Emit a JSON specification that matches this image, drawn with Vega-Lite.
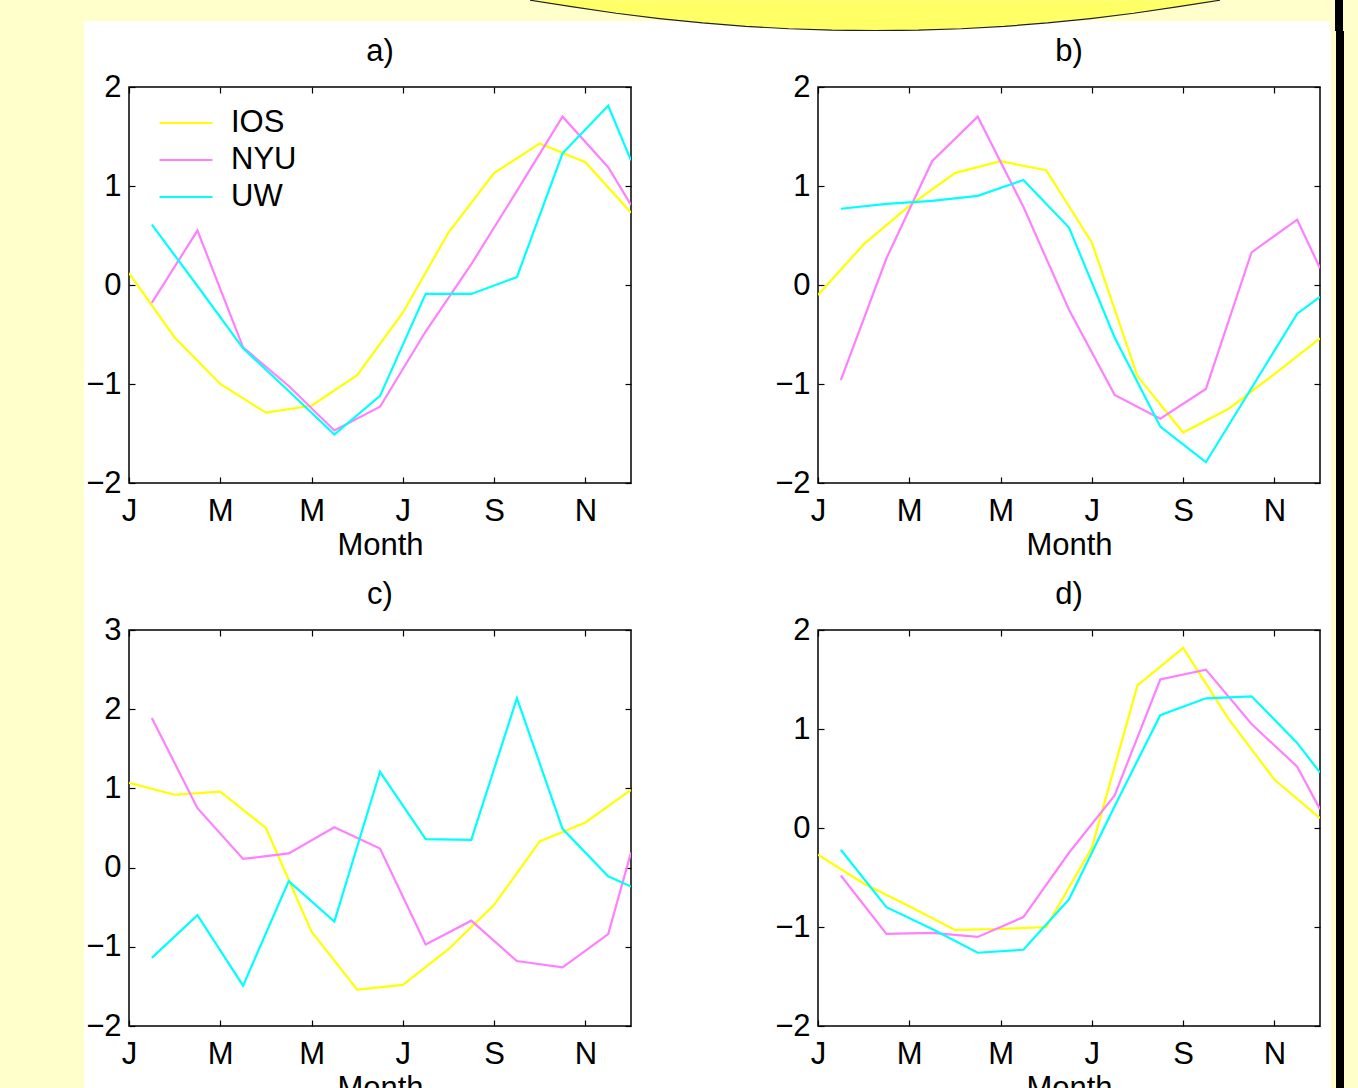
{
"$schema":"https://vega.github.io/schema/vega-lite/v6.json",
"background":"white",
"padding":0,
"autosize":{"type":"pad"},
"columns":1,
"align":"none",
"spacing":0,
"resolve":{"scale":{"color":"independent"},"legend":{"color":"independent"}},
"datasets":{"d":[
{"panel":"a","series":"IOS","month":1,"value":0.12},{"panel":"a","series":"IOS","month":2,"value":-0.53},{"panel":"a","series":"IOS","month":3,"value":-1.0},{"panel":"a","series":"IOS","month":4,"value":-1.29},{"panel":"a","series":"IOS","month":5,"value":-1.22},{"panel":"a","series":"IOS","month":6,"value":-0.91},{"panel":"a","series":"IOS","month":7,"value":-0.28},{"panel":"a","series":"IOS","month":8,"value":0.53},{"panel":"a","series":"IOS","month":9,"value":1.13},{"panel":"a","series":"IOS","month":10,"value":1.43},{"panel":"a","series":"IOS","month":11,"value":1.24},{"panel":"a","series":"IOS","month":12,"value":0.73},
{"panel":"a","series":"NYU","month":1.5,"value":-0.18},{"panel":"a","series":"NYU","month":2.5,"value":0.55},{"panel":"a","series":"NYU","month":3.5,"value":-0.63},{"panel":"a","series":"NYU","month":4.5,"value":-1.02},{"panel":"a","series":"NYU","month":5.5,"value":-1.47},{"panel":"a","series":"NYU","month":6.5,"value":-1.23},{"panel":"a","series":"NYU","month":7.5,"value":-0.47},{"panel":"a","series":"NYU","month":8.5,"value":0.21},{"panel":"a","series":"NYU","month":9.5,"value":0.95},{"panel":"a","series":"NYU","month":10.5,"value":1.70},{"panel":"a","series":"NYU","month":11.5,"value":1.19},{"panel":"a","series":"NYU","month":12,"value":0.81},
{"panel":"a","series":"UW","month":1.5,"value":0.61},{"panel":"a","series":"UW","month":2.5,"value":-0.01},{"panel":"a","series":"UW","month":3.5,"value":-0.64},{"panel":"a","series":"UW","month":4.5,"value":-1.07},{"panel":"a","series":"UW","month":5.5,"value":-1.51},{"panel":"a","series":"UW","month":6.5,"value":-1.12},{"panel":"a","series":"UW","month":7.5,"value":-0.09},{"panel":"a","series":"UW","month":8.5,"value":-0.09},{"panel":"a","series":"UW","month":9.5,"value":0.08},{"panel":"a","series":"UW","month":10.5,"value":1.33},{"panel":"a","series":"UW","month":11.5,"value":1.81},{"panel":"a","series":"UW","month":12,"value":1.26},
{"panel":"b","series":"IOS","month":1,"value":-0.10},{"panel":"b","series":"IOS","month":2,"value":0.41},{"panel":"b","series":"IOS","month":3,"value":0.80},{"panel":"b","series":"IOS","month":4,"value":1.13},{"panel":"b","series":"IOS","month":5,"value":1.25},{"panel":"b","series":"IOS","month":6,"value":1.16},{"panel":"b","series":"IOS","month":7,"value":0.43},{"panel":"b","series":"IOS","month":8,"value":-0.92},{"panel":"b","series":"IOS","month":9,"value":-1.49},{"panel":"b","series":"IOS","month":10,"value":-1.25},{"panel":"b","series":"IOS","month":11,"value":-0.90},{"panel":"b","series":"IOS","month":12,"value":-0.54},
{"panel":"b","series":"NYU","month":1.5,"value":-0.96},{"panel":"b","series":"NYU","month":2.5,"value":0.27},{"panel":"b","series":"NYU","month":3.5,"value":1.25},{"panel":"b","series":"NYU","month":4.5,"value":1.70},{"panel":"b","series":"NYU","month":5.5,"value":0.79},{"panel":"b","series":"NYU","month":6.5,"value":-0.25},{"panel":"b","series":"NYU","month":7.5,"value":-1.11},{"panel":"b","series":"NYU","month":8.5,"value":-1.35},{"panel":"b","series":"NYU","month":9.5,"value":-1.05},{"panel":"b","series":"NYU","month":10.5,"value":0.33},{"panel":"b","series":"NYU","month":11.5,"value":0.66},{"panel":"b","series":"NYU","month":12,"value":0.17},
{"panel":"b","series":"UW","month":1.5,"value":0.77},{"panel":"b","series":"UW","month":2.5,"value":0.82},{"panel":"b","series":"UW","month":3.5,"value":0.85},{"panel":"b","series":"UW","month":4.5,"value":0.90},{"panel":"b","series":"UW","month":5.5,"value":1.06},{"panel":"b","series":"UW","month":6.5,"value":0.58},{"panel":"b","series":"UW","month":7.5,"value":-0.53},{"panel":"b","series":"UW","month":8.5,"value":-1.43},{"panel":"b","series":"UW","month":9.5,"value":-1.79},{"panel":"b","series":"UW","month":10.5,"value":-1.04},{"panel":"b","series":"UW","month":11.5,"value":-0.29},{"panel":"b","series":"UW","month":12,"value":-0.12},
{"panel":"c","series":"IOS","month":1,"value":1.07},{"panel":"c","series":"IOS","month":2,"value":0.92},{"panel":"c","series":"IOS","month":3,"value":0.96},{"panel":"c","series":"IOS","month":4,"value":0.50},{"panel":"c","series":"IOS","month":5,"value":-0.81},{"panel":"c","series":"IOS","month":6,"value":-1.54},{"panel":"c","series":"IOS","month":7,"value":-1.48},{"panel":"c","series":"IOS","month":8,"value":-1.03},{"panel":"c","series":"IOS","month":9,"value":-0.47},{"panel":"c","series":"IOS","month":10,"value":0.33},{"panel":"c","series":"IOS","month":11,"value":0.57},{"panel":"c","series":"IOS","month":12,"value":0.98},
{"panel":"c","series":"NYU","month":1.5,"value":1.89},{"panel":"c","series":"NYU","month":2.5,"value":0.75},{"panel":"c","series":"NYU","month":3.5,"value":0.11},{"panel":"c","series":"NYU","month":4.5,"value":0.18},{"panel":"c","series":"NYU","month":5.5,"value":0.51},{"panel":"c","series":"NYU","month":6.5,"value":0.24},{"panel":"c","series":"NYU","month":7.5,"value":-0.97},{"panel":"c","series":"NYU","month":8.5,"value":-0.67},{"panel":"c","series":"NYU","month":9.5,"value":-1.18},{"panel":"c","series":"NYU","month":10.5,"value":-1.26},{"panel":"c","series":"NYU","month":11.5,"value":-0.84},{"panel":"c","series":"NYU","month":12,"value":0.19},
{"panel":"c","series":"UW","month":1.5,"value":-1.14},{"panel":"c","series":"UW","month":2.5,"value":-0.60},{"panel":"c","series":"UW","month":3.5,"value":-1.49},{"panel":"c","series":"UW","month":4.5,"value":-0.17},{"panel":"c","series":"UW","month":5.5,"value":-0.68},{"panel":"c","series":"UW","month":6.5,"value":1.21},{"panel":"c","series":"UW","month":7.5,"value":0.36},{"panel":"c","series":"UW","month":8.5,"value":0.35},{"panel":"c","series":"UW","month":9.5,"value":2.14},{"panel":"c","series":"UW","month":10.5,"value":0.49},{"panel":"c","series":"UW","month":11.5,"value":-0.11},{"panel":"c","series":"UW","month":12,"value":-0.24},
{"panel":"d","series":"IOS","month":1,"value":-0.27},{"panel":"d","series":"IOS","month":2,"value":-0.56},{"panel":"d","series":"IOS","month":3,"value":-0.79},{"panel":"d","series":"IOS","month":4,"value":-1.03},{"panel":"d","series":"IOS","month":5,"value":-1.02},{"panel":"d","series":"IOS","month":6,"value":-1.00},{"panel":"d","series":"IOS","month":7,"value":-0.20},{"panel":"d","series":"IOS","month":8,"value":1.44},{"panel":"d","series":"IOS","month":9,"value":1.82},{"panel":"d","series":"IOS","month":10,"value":1.10},{"panel":"d","series":"IOS","month":11,"value":0.49},{"panel":"d","series":"IOS","month":12,"value":0.10},
{"panel":"d","series":"NYU","month":1.5,"value":-0.48},{"panel":"d","series":"NYU","month":2.5,"value":-1.07},{"panel":"d","series":"NYU","month":3.5,"value":-1.06},{"panel":"d","series":"NYU","month":4.5,"value":-1.10},{"panel":"d","series":"NYU","month":5.5,"value":-0.90},{"panel":"d","series":"NYU","month":6.5,"value":-0.25},{"panel":"d","series":"NYU","month":7.5,"value":0.33},{"panel":"d","series":"NYU","month":8.5,"value":1.50},{"panel":"d","series":"NYU","month":9.5,"value":1.60},{"panel":"d","series":"NYU","month":10.5,"value":1.05},{"panel":"d","series":"NYU","month":11.5,"value":0.62},{"panel":"d","series":"NYU","month":12,"value":0.19},
{"panel":"d","series":"UW","month":1.5,"value":-0.22},{"panel":"d","series":"UW","month":2.5,"value":-0.80},{"panel":"d","series":"UW","month":3.5,"value":-1.02},{"panel":"d","series":"UW","month":4.5,"value":-1.26},{"panel":"d","series":"UW","month":5.5,"value":-1.23},{"panel":"d","series":"UW","month":6.5,"value":-0.72},{"panel":"d","series":"UW","month":7.5,"value":0.22},{"panel":"d","series":"UW","month":8.5,"value":1.14},{"panel":"d","series":"UW","month":9.5,"value":1.31},{"panel":"d","series":"UW","month":10.5,"value":1.33},{"panel":"d","series":"UW","month":11.5,"value":0.86},{"panel":"d","series":"UW","month":12,"value":0.56}
]},
"concat":[
 {"width":1358,"height":31,"view":{"fill":null,"stroke":null},"data":{"values":[{}]},
  "layer":[
   {"mark":{"type":"rect","color":"#FFFFCC"},
    "encoding":{
     "x":{"datum":0,"type":"quantitative","scale":{"domain":[0,1358],"nice":false,"zero":false},"axis":null},
     "x2":{"datum":1358},
     "y":{"datum":0,"type":"quantitative","scale":{"domain":[0,31],"nice":false,"zero":false,"reverse":true},"axis":null},
     "y2":{"datum":21}}},
   {"mark":{"type":"rect","color":"#FFFFCC"},
    "encoding":{"x":{"datum":0,"type":"quantitative"},"x2":{"datum":84},"y":{"datum":21,"type":"quantitative"},"y2":{"datum":31}}},
   {"mark":{"type":"rect","color":"#FFFFCC"},
    "encoding":{"x":{"datum":1330,"type":"quantitative"},"x2":{"datum":1358},"y":{"datum":21,"type":"quantitative"},"y2":{"datum":31}}},
   {"mark":{"type":"rect","color":"black"},
    "encoding":{"x":{"datum":1335,"type":"quantitative"},"x2":{"datum":1343},"y":{"datum":0,"type":"quantitative"},"y2":{"datum":31}}},
   {"mark":{"type":"point","clip":true,"filled":true,"fill":"#FFFF66","stroke":"#222222","strokeWidth":1.2,"strokeJoin":"round","opacity":1,"size":476100,
     "shape":"M-1,-0.0435L-0.875,-0.0239L-0.75,-0.0056L-0.625,0.0098L-0.5,0.0225L-0.375,0.0323L-0.25,0.0393L-0.125,0.0435L0,0.0449L0.125,0.0435L0.25,0.0393L0.375,0.0323L0.5,0.0225L0.625,0.0098L0.75,-0.0056L0.875,-0.0239L1,-0.0435"},
    "encoding":{"x":{"datum":875,"type":"quantitative"},"y":{"datum":15.2,"type":"quantitative"}}}
  ]},
 {"columns":3,"align":"none","spacing":0,
  "resolve":{"scale":{"color":"independent"},"legend":{"color":"independent"}},
  "concat":[
   {"width":84,"height":1001,"view":{"fill":null,"stroke":null},"data":{"values":[{}]},
    "mark":{"type":"rect","color":"#FFFFCC"},
    "encoding":{
     "x":{"datum":0,"type":"quantitative","scale":{"domain":[0,84],"nice":false,"zero":false},"axis":null},
     "x2":{"datum":84},
     "y":{"datum":-56,"type":"quantitative","scale":{"domain":[0,1001],"nice":false,"zero":false,"reverse":true},"axis":null},
     "y2":{"datum":1001}}},
   {"columns":2,"bounds":"flush","spacing":{"row":147,"column":187},
    "resolve":{"scale":{"color":"independent"},"legend":{"color":"independent"}},
    "concat":[
     {"width":502,"height":396,"title":{"text":"a)"},"data":{"name":"d"},"transform":[{"filter":"datum.panel==='a'"}],
      "layer":[
       {"mark":{"type":"line","clip":true,"strokeWidth":2.2},
        "encoding":{
         "x":{"field":"month","type":"quantitative","scale":{"domain":[1,12],"nice":false,"zero":false},
              "axis":{"orient":"bottom","values":[1,3,5,7,9,11],"labelExpr":"datum.value==1?'J':datum.value==3?'M':datum.value==5?'M':datum.value==7?'J':datum.value==9?'S':'N'","title":"Month","tickSize":-6,"labelPadding":43,"labelBaseline":"alphabetic","titleBaseline":"alphabetic","titleY":71,"labelFlush":false,"labelOverlap":false,"labelBound":false}},
         "y":{"field":"value","type":"quantitative","scale":{"domain":[-2,2],"nice":false,"zero":false},
              "axis":{"orient":"left","values":[-2,-1,0,1,2],"format":"d","title":null,"tickSize":-6,"labelPadding":14,"labelOverlap":false,"labelFlush":false}},
         "color":{"field":"series","type":"nominal","scale":{"domain":["IOS","NYU","UW"],"range":["#FFFF00","#FF80FF","#00FFFF"]},
              "legend":{"orient":"none","legendX":29,"legendY":20,"title":null,"symbolType":"stroke","symbolSize":2809,"symbolStrokeWidth":2.2,"labelFontSize":31,"labelFont":"Liberation Sans","labelColor":"black","labelOffset":17,"rowPadding":5,"clipHeight":32,"padding":0}}}},
       {"mark":{"type":"point","clip":true,"opacity":0},
        "encoding":{
         "x":{"field":"month","type":"quantitative","axis":{"orient":"top","values":[1,3,5,7,9,11],"labels":false,"title":null,"tickSize":-6}},
         "y":{"field":"value","type":"quantitative","axis":{"orient":"right","values":[-2,-1,0,1,2],"labels":false,"title":null,"tickSize":-6}}}}
      ]},
     {"width":502,"height":396,"title":{"text":"b)"},"data":{"name":"d"},"transform":[{"filter":"datum.panel==='b'"}],
      "layer":[
       {"mark":{"type":"line","clip":true,"strokeWidth":2.2},
        "encoding":{
         "x":{"field":"month","type":"quantitative","scale":{"domain":[1,12],"nice":false,"zero":false},
              "axis":{"orient":"bottom","values":[1,3,5,7,9,11],"labelExpr":"datum.value==1?'J':datum.value==3?'M':datum.value==5?'M':datum.value==7?'J':datum.value==9?'S':'N'","title":"Month","tickSize":-6,"labelPadding":43,"labelBaseline":"alphabetic","titleBaseline":"alphabetic","titleY":71,"labelFlush":false,"labelOverlap":false,"labelBound":false}},
         "y":{"field":"value","type":"quantitative","scale":{"domain":[-2,2],"nice":false,"zero":false},
              "axis":{"orient":"left","values":[-2,-1,0,1,2],"format":"d","title":null,"tickSize":-6,"labelPadding":14,"labelOverlap":false,"labelFlush":false}},
         "color":{"field":"series","type":"nominal","scale":{"domain":["IOS","NYU","UW"],"range":["#FFFF00","#FF80FF","#00FFFF"]},"legend":null}}},
       {"mark":{"type":"point","clip":true,"opacity":0},
        "encoding":{
         "x":{"field":"month","type":"quantitative","axis":{"orient":"top","values":[1,3,5,7,9,11],"labels":false,"title":null,"tickSize":-6}},
         "y":{"field":"value","type":"quantitative","axis":{"orient":"right","values":[-2,-1,0,1,2],"labels":false,"title":null,"tickSize":-6}}}}
      ]},
     {"width":502,"height":396,"title":{"text":"c)"},"data":{"name":"d"},"transform":[{"filter":"datum.panel==='c'"}],
      "layer":[
       {"mark":{"type":"line","clip":true,"strokeWidth":2.2},
        "encoding":{
         "x":{"field":"month","type":"quantitative","scale":{"domain":[1,12],"nice":false,"zero":false},
              "axis":{"orient":"bottom","values":[1,3,5,7,9,11],"labelExpr":"datum.value==1?'J':datum.value==3?'M':datum.value==5?'M':datum.value==7?'J':datum.value==9?'S':'N'","title":"Month","tickSize":-6,"labelPadding":43,"labelBaseline":"alphabetic","titleBaseline":"alphabetic","titleY":71,"labelFlush":false,"labelOverlap":false,"labelBound":false}},
         "y":{"field":"value","type":"quantitative","scale":{"domain":[-2,3],"nice":false,"zero":false},
              "axis":{"orient":"left","values":[-2,-1,0,1,2,3],"format":"d","title":null,"tickSize":-6,"labelPadding":14,"labelOverlap":false,"labelFlush":false}},
         "color":{"field":"series","type":"nominal","scale":{"domain":["IOS","NYU","UW"],"range":["#FFFF00","#FF80FF","#00FFFF"]},"legend":null}}},
       {"mark":{"type":"point","clip":true,"opacity":0},
        "encoding":{
         "x":{"field":"month","type":"quantitative","axis":{"orient":"top","values":[1,3,5,7,9,11],"labels":false,"title":null,"tickSize":-6}},
         "y":{"field":"value","type":"quantitative","axis":{"orient":"right","values":[-2,-1,0,1,2,3],"labels":false,"title":null,"tickSize":-6}}}}
      ]},
     {"width":502,"height":396,"title":{"text":"d)"},"data":{"name":"d"},"transform":[{"filter":"datum.panel==='d'"}],
      "layer":[
       {"mark":{"type":"line","clip":true,"strokeWidth":2.2},
        "encoding":{
         "x":{"field":"month","type":"quantitative","scale":{"domain":[1,12],"nice":false,"zero":false},
              "axis":{"orient":"bottom","values":[1,3,5,7,9,11],"labelExpr":"datum.value==1?'J':datum.value==3?'M':datum.value==5?'M':datum.value==7?'J':datum.value==9?'S':'N'","title":"Month","tickSize":-6,"labelPadding":43,"labelBaseline":"alphabetic","titleBaseline":"alphabetic","titleY":71,"labelFlush":false,"labelOverlap":false,"labelBound":false}},
         "y":{"field":"value","type":"quantitative","scale":{"domain":[-2,2],"nice":false,"zero":false},
              "axis":{"orient":"left","values":[-2,-1,0,1,2],"format":"d","title":null,"tickSize":-6,"labelPadding":14,"labelOverlap":false,"labelFlush":false}},
         "color":{"field":"series","type":"nominal","scale":{"domain":["IOS","NYU","UW"],"range":["#FFFF00","#FF80FF","#00FFFF"]},"legend":null}}},
       {"mark":{"type":"point","clip":true,"opacity":0},
        "encoding":{
         "x":{"field":"month","type":"quantitative","axis":{"orient":"top","values":[1,3,5,7,9,11],"labels":false,"title":null,"tickSize":-6}},
         "y":{"field":"value","type":"quantitative","axis":{"orient":"right","values":[-2,-1,0,1,2],"labels":false,"title":null,"tickSize":-6}}}}
      ]}
    ]},
   {"width":38,"height":1001,"view":{"fill":null,"stroke":null},"data":{"values":[{}]},
    "layer":[
     {"mark":{"type":"rect","color":"#FFFFCC"},
      "encoding":{
       "x":{"datum":9,"type":"quantitative","scale":{"domain":[0,38],"nice":false,"zero":false},"axis":null},
       "x2":{"datum":38},
       "y":{"datum":-56,"type":"quantitative","scale":{"domain":[0,1001],"nice":false,"zero":false,"reverse":true},"axis":null},
       "y2":{"datum":1001}}},
     {"mark":{"type":"rect","color":"black"},
      "encoding":{"x":{"datum":14,"type":"quantitative"},"x2":{"datum":22},"y":{"datum":-56,"type":"quantitative"},"y2":{"datum":1001}}}
    ]}
  ]}
],
"config":{
 "font":"Liberation Sans",
 "view":{"stroke":"black","strokeWidth":1.5},
 "axis":{"domain":false,"grid":false,"tickColor":"black","tickWidth":1.2,"labelColor":"black","titleColor":"black","labelFontSize":31,"titleFontSize":31,"labelFont":"Liberation Sans","titleFont":"Liberation Sans","titleFontWeight":"normal"},
 "title":{"fontSize":31,"fontWeight":"normal","font":"Liberation Sans","color":"black","frame":"group","offset":3,"baseline":"alphabetic","anchor":"middle"}
}
}
